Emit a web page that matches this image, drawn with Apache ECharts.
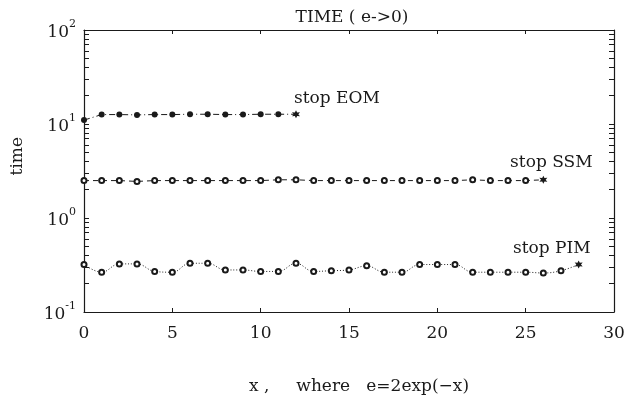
<!DOCTYPE html>
<html>
<head>
<meta charset="utf-8">
<script src="https://cdn.jsdelivr.net/npm/echarts@6/dist/echarts.min.js"></script>
<style>html,body{margin:0;padding:0;background:#fff}#c{width:628px;height:405px}</style>
</head>
<body>
<div id="c"></div>
<script>
const FONT = '"DejaVu Serif", "Liberation Serif", serif';
const xTicks = [0, 5, 10, 15, 20, 25, 30];
const yMajor = [0.1, 1, 10, 100];
const yTicks = [0.1,0.2,0.3,0.4,0.5,0.6,0.7,0.8,0.9,1,2,3,4,5,6,7,8,9,10,20,30,40,50,60,70,80,90,100];
const eomX = [0,1,2,3,4,5,6,7,8,9,10,11,12];
const eomTime = [11.0,12.6,12.6,12.5,12.6,12.6,12.7,12.7,12.6,12.6,12.7,12.7,12.7];
const ssmX = [0,1,2,3,4,5,6,7,8,9,10,11,12,13,14,15,16,17,18,19,20,21,22,23,24,25,26];
const ssmTime = [2.5,2.5,2.5,2.45,2.5,2.5,2.5,2.5,2.5,2.5,2.5,2.55,2.55,2.5,2.5,2.5,2.5,2.5,2.5,2.5,2.5,2.5,2.55,2.5,2.5,2.5,2.55];
const pimX = [0,1,2,3,4,5,6,7,8,9,10,11,12,13,14,15,16,17,18,19,20,21,22,23,24,25,26,27,28];
const pimTime = [0.32,0.265,0.325,0.325,0.27,0.265,0.33,0.33,0.28,0.28,0.27,0.27,0.33,0.27,0.275,0.28,0.31,0.265,0.265,0.32,0.32,0.32,0.265,0.265,0.265,0.265,0.26,0.275,0.32];
const stopLabels = ['stop EOM', 'stop SSM', 'stop PIM'];

const INK = '#1a1a1a';
const STAR = 'path://M0,-10 L2.5,-4.3 L8.7,-5 L5,0 L8.7,5 L2.5,4.3 L0,10 L-2.5,4.3 L-8.7,5 L-5,0 L-8.7,-5 L-2.5,-4.3 Z';

function build(xs, ys, label, lblOpt) {
  return xs.map((x, i) => {
    const d = { value: [x, ys[i]] };
    if (i === xs.length - 1) {
      d.symbol = STAR;
      d.symbolSize = 8;
      d.itemStyle = { color: INK, borderWidth: 0 };
      d.label = Object.assign({
        show: true, formatter: label, color: INK,
        fontFamily: FONT, fontSize: 17
      }, lblOpt);
    }
    return d;
  });
}

const chart = echarts.init(document.getElementById('c'));
const logAxisBase = {
  type: 'log', logBase: 10, min: 0.1, max: 100,
  axisLine: { show: true, onZero: false, lineStyle: { color: INK, width: 1.2 } },
  splitLine: { show: false },
  axisTick: { show: true, inside: true, length: 5, customValues: yTicks, lineStyle: { color: INK } }
};
chart.setOption({
  animation: false,
  backgroundColor: '#fff',
  title: {
    text: 'TIME ( e->0)', left: 347, top: 4, textAlign: 'center',
    textStyle: { fontFamily: FONT, fontWeight: 'normal', fontSize: 17, color: INK }
  },
  grid: { left: 84, right: 14, top: 30, bottom: 93 },
  xAxis: [{
    type: 'value', min: 0, max: 30, interval: 5, position: 'bottom',
    name: 'x ,     where   e=2exp(\u2212x)', nameLocation: 'middle', nameGap: 66,
    nameTextStyle: { fontFamily: FONT, fontSize: 17, color: INK, padding: [0, 0, 0, 20] },
    axisLine: { show: true, onZero: false, lineStyle: { color: INK, width: 1.2 } },
    axisTick: { show: true, inside: true, length: 4, lineStyle: { color: INK } },
    axisLabel: { fontFamily: FONT, fontSize: 17, color: INK, margin: 13, customValues: xTicks },
    splitLine: { show: false }
  }, {
    type: 'value', min: 0, max: 30, interval: 5, position: 'top',
    axisLine: { show: true, onZero: false, lineStyle: { color: INK, width: 1.2 } },
    axisTick: { show: true, inside: true, length: 4, lineStyle: { color: INK } },
    axisLabel: { show: false }, splitLine: { show: false }
  }],
  yAxis: [Object.assign({}, logAxisBase, {
    position: 'left',
    axisLabel: {
      customValues: yMajor, margin: 8,
      formatter: v => '{b|10}{s|' + Math.round(Math.log10(v)) + '}',
      rich: {
        b: { fontFamily: FONT, fontSize: 17, color: INK, lineHeight: 22, verticalAlign: 'bottom' },
        s: { fontFamily: FONT, fontSize: 11, color: INK, lineHeight: 22, verticalAlign: 'top' }
      }
    }
  }), Object.assign({}, logAxisBase, {
    position: 'right', axisLabel: { show: false }
  })],
  graphic: [{
    type: 'text', left: 9, top: 137, rotation: Math.PI / 2,
    style: { text: 'time', fontFamily: FONT, fontSize: 17, fill: INK }
  }],
  series: [{
    type: 'line', name: 'EOM', xAxisIndex: 0, yAxisIndex: 0,
    data: build(eomX, eomTime, stopLabels[0], { position: 'top', align: 'left', offset: [-2, 2] }),
    symbol: 'circle', symbolSize: 6, itemStyle: { color: INK },
    lineStyle: { color: INK, width: 1, type: [6, 3, 1, 3] }
  }, {
    type: 'line', name: 'SSM', xAxisIndex: 0, yAxisIndex: 0,
    data: build(ssmX, ssmTime, stopLabels[1], { position: 'top', align: 'center', offset: [8, 0] }),
    symbol: 'emptyCircle', symbolSize: 5, itemStyle: { color: INK, borderWidth: 0.6 },
    lineStyle: { color: INK, width: 1, type: [5, 4] }
  }, {
    type: 'line', name: 'PIM', xAxisIndex: 0, yAxisIndex: 0, smooth: 0.4,
    data: build(pimX, pimTime, stopLabels[2], { position: 'top', align: 'right', offset: [12, 2] }),
    symbol: 'emptyCircle', symbolSize: 5, itemStyle: { color: INK, borderWidth: 0.6 },
    lineStyle: { color: INK, width: 1, type: [1, 2] }
  }]
});
</script>
</body>
</html>
